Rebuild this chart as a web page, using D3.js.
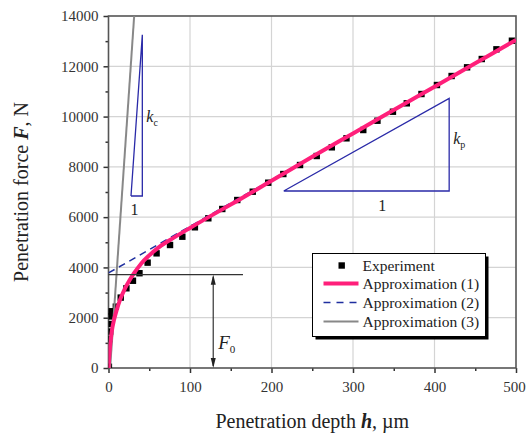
<!DOCTYPE html>
<html>
<head>
<meta charset="utf-8">
<script src="https://cdn.jsdelivr.net/npm/d3@7"></script>
<style>
  body { margin: 0; background: #fff; }
  text { font-family: "Liberation Serif", "DejaVu Serif", serif; fill: #222; }
</style>
</head>
<body>
<div id="chart"></div>
<script>
// experiment points (h in um, F in N)
var hExp = [0.5, 1.5, 2, 2, 2.5, 3, 4.5, 9, 15, 22, 30, 38, 48, 59, 75.5, 90.6, 106, 122.5, 139.6, 158, 177, 196,
            214.5, 235, 255.5, 274, 292, 312.6, 330, 349, 366, 384, 403, 421, 440, 458, 476, 495];
var fExp = [50, 1150, 1450, 1750, 2050, 2250, 2250, 2440, 2800, 3170, 3470, 3770, 4190, 4560, 4892, 5222, 5596, 5954, 6324, 6681, 7012, 7370,
            7715, 8073, 8431, 8777, 9135, 9465, 9835, 10193, 10527, 10897, 11255, 11613, 11959, 12289, 12675, 13017];

// approximation (1)
var hApp1 = [0, 1, 2, 4, 7, 10, 14, 20, 26, 32, 40, 50, 60, 75, 100, 125, 150, 200, 250, 300, 350, 400, 450, 500];
var fApp1 = [0, 500, 900, 1450, 1950, 2300, 2700, 3150, 3500, 3800, 4150, 4480, 4760, 5080, 5570, 6040, 6500, 7450, 8400, 9330, 10260, 11190, 12120, 13050];

// approximation (2) and (3)
var hApp2 = [0, 500];
var fApp2 = [3780, 13050];
var hApp3 = [2, 31.5];
var fApp3 = [0, 14000];

var F0 = 3710;

var xTicks = [0, 100, 200, 300, 400, 500];
var yTicks = [0, 2000, 4000, 6000, 8000, 10000, 12000, 14000];
var xMinor = [50, 150, 250, 350, 450];
var yMinor = [1000, 3000, 5000, 7000, 9000, 11000, 13000];

var legendNames = ["Experiment", "Approximation (1)", "Approximation (2)", "Approximation (3)"];

var W = 526, H = 435;
var m = {left: 108.5, top: 16, right: 10, bottom: 67};
var pw = W - m.left - m.right, ph = H - m.top - m.bottom;

var svg = d3.select("#chart").append("svg")
    .attr("width", W).attr("height", H);

var x = d3.scaleLinear().domain([0, 500]).range([0, pw]);
var y = d3.scaleLinear().domain([0, 14000]).range([ph, 0]);

var g = svg.append("g").attr("transform", "translate(" + m.left + "," + m.top + ")");

svg.append("defs").append("clipPath").attr("id", "clip")
    .append("rect").attr("width", pw).attr("height", ph);

// grid
g.selectAll(".gx").data(xTicks.slice(1, -1)).enter().append("line")
    .attr("x1", function(d){return x(d);}).attr("x2", function(d){return x(d);})
    .attr("y1", 0).attr("y2", ph)
    .style("stroke", "#d4d4d4").style("stroke-width", 1.2);
g.selectAll(".gy").data(yTicks.slice(1, -1)).enter().append("line")
    .attr("y1", function(d){return y(d);}).attr("y2", function(d){return y(d);})
    .attr("x1", 0).attr("x2", pw)
    .style("stroke", "#d4d4d4").style("stroke-width", 1.2);

// axes
var fmt = d3.format("d");
var xAx = g.append("g").attr("transform", "translate(0," + ph + ")")
    .call(d3.axisBottom(x).tickValues(xTicks).tickSize(5).tickPadding(8).tickFormat(fmt));
g.append("g")
    .call(d3.axisLeft(y).tickValues(yTicks).tickSize(5).tickPadding(5).tickFormat(fmt));
g.append("g").attr("transform", "translate(0," + ph + ")")
    .call(d3.axisBottom(x).tickValues(xMinor).tickSize(3).tickFormat(""));
g.append("g")
    .call(d3.axisLeft(y).tickValues(yMinor).tickSize(3).tickFormat(""));
g.selectAll(".domain").remove();
g.selectAll(".tick line").style("stroke", "#333").style("stroke-width", 1.5);
g.selectAll(".tick text").attr("font-family", "Liberation Serif")
    .style("font-size", "15px").style("font-family", "Liberation Serif").style("fill", "#333");
// last x label sits at the window edge
xAx.selectAll(".tick text").filter(function(d){return d === 500;}).attr("dx", -2);

// frame
g.append("rect").attr("width", pw).attr("height", ph)
    .style("fill", "none").style("stroke", "#555").style("stroke-width", 1.6);

var plot = g.append("g").attr("clip-path", "url(#clip)");

// experiment squares
plot.selectAll(".pt").data(d3.range(hExp.length)).enter().append("rect")
    .attr("x", function(i){return x(hExp[i]) - 3.2;})
    .attr("y", function(i){return y(fExp[i]) - 3.2;})
    .attr("width", 6.4).attr("height", 6.4)
    .style("fill", "#000");

var line = d3.line()
    .x(function(d){return x(d[0]);})
    .y(function(d){return y(d[1]);});

// approximation (3)
plot.append("path").datum(d3.zip(hApp3, fApp3)).attr("d", line)
    .style("fill", "none").style("stroke", "#888").style("stroke-width", 2);

// approximation (2)
plot.append("path").datum(d3.zip(hApp2, fApp2)).attr("d", line)
    .style("fill", "none").style("stroke", "#1f2f9f").style("stroke-width", 1.5)
    .style("stroke-dasharray", "7,5");

// approximation (1)
plot.append("path").datum(d3.zip(hApp1, fApp1)).attr("d", line.curve(d3.curveMonotoneX))
    .style("fill", "none").style("stroke", "#ff1f7a").style("stroke-width", 4);

// F0 line and arrow
var ann = g.append("g");
ann.append("line").attr("x1", x(0)).attr("x2", x(165)).attr("y1", y(F0)).attr("y2", y(F0))
    .style("stroke", "#333").style("stroke-width", 1.3);
var ax = x(128.5);
ann.append("line").attr("x1", ax).attr("x2", ax).attr("y1", y(F0) + 2).attr("y2", y(0) - 2)
    .style("stroke", "#333").style("stroke-width", 1.2);
ann.append("path").attr("d", "M" + ax + "," + y(F0) + " l-2.5,10 l5,0 z").style("fill", "#222");
ann.append("path").attr("d", "M" + ax + "," + y(0) + " l-2.5,-10 l5,0 z").style("fill", "#222");
var f0t = ann.append("text").attr("x", ax + 5).attr("y", 333).style("font-size", "19px");
f0t.append("tspan").style("font-style", "italic").text("F");
f0t.append("tspan").attr("dy", 4).style("font-size", "11px").text("0");

// kc triangle
var tri = d3.line().x(function(d){return x(d[0]);}).y(function(d){return y(d[1]);});
ann.append("path").datum([[27.6, 6840], [41.5, 6840], [41.5, 13250], [27.6, 6840]]).attr("d", tri)
    .style("fill", "none").style("stroke", "#2a2aa8").style("stroke-width", 1.3);
var kc = ann.append("text").attr("x", x(41.5) + 4).attr("y", y(9780)).style("font-size", "16px");
kc.append("tspan").style("font-style", "italic").text("k");
kc.append("tspan").attr("dy", 4).style("font-size", "10px").text("c");
ann.append("text").attr("x", x(32)).attr("y", y(6840) + 19).attr("text-anchor", "middle")
    .style("font-size", "16px").text("1");

// kp triangle
ann.append("path").datum([[215, 7040], [418, 7040], [418, 10726], [215, 7040]]).attr("d", tri)
    .style("fill", "none").style("stroke", "#2a2aa8").style("stroke-width", 1.3);
var kp = ann.append("text").attr("x", x(418) + 4).attr("y", y(8900)).style("font-size", "16px");
kp.append("tspan").style("font-style", "italic").text("k");
kp.append("tspan").attr("dy", 4).style("font-size", "10px").text("p");
ann.append("text").attr("x", x(336)).attr("y", y(7040) + 20).attr("text-anchor", "middle")
    .style("font-size", "16px").text("1");

// legend
var lg = svg.append("g").attr("transform", "translate(312.5,253.5)");
lg.append("rect").attr("x", 3).attr("y", 3).attr("width", 173).attr("height", 83).style("fill", "#000");
lg.append("rect").attr("width", 173).attr("height", 83)
    .style("fill", "#fff").style("stroke", "#000").style("stroke-width", 1);
var rowY = [12, 30, 49, 68];
lg.append("rect").attr("x", 26).attr("y", rowY[0] - 3.2).attr("width", 6.4).attr("height", 6.4).style("fill", "#000");
lg.append("line").attr("x1", 11).attr("x2", 46).attr("y1", rowY[1]).attr("y2", rowY[1])
    .style("stroke", "#ff1f7a").style("stroke-width", 4);
lg.append("line").attr("x1", 11).attr("x2", 46).attr("y1", rowY[2]).attr("y2", rowY[2])
    .style("stroke", "#1f2f9f").style("stroke-width", 1.5).style("stroke-dasharray", "7,6");
lg.append("line").attr("x1", 11).attr("x2", 46).attr("y1", rowY[3]).attr("y2", rowY[3])
    .style("stroke", "#888").style("stroke-width", 2);
lg.selectAll(".lt").data(legendNames).enter().append("text")
    .attr("x", 50).attr("y", function(d, i){return rowY[i] + 5;})
    .style("font-size", "15.5px").text(function(d){return d;});

// axis titles
var xt = svg.append("text").attr("x", m.left + pw / 2).attr("y", 428).attr("text-anchor", "middle")
    .style("font-size", "20px");
xt.append("tspan").text("Penetration depth ");
xt.append("tspan").style("font-weight", "bold").style("font-style", "italic").text("h");
xt.append("tspan").text(",  \u00b5m");

var yt = svg.append("text").attr("transform", "translate(28," + (m.top + ph / 2) + ") rotate(-90)")
    .attr("text-anchor", "middle").style("font-size", "20px");
yt.append("tspan").text("Penetration force ");
yt.append("tspan").style("font-weight", "bold").style("font-style", "italic").text("F");
yt.append("tspan").text(",  N");
</script>
</body>
</html>
